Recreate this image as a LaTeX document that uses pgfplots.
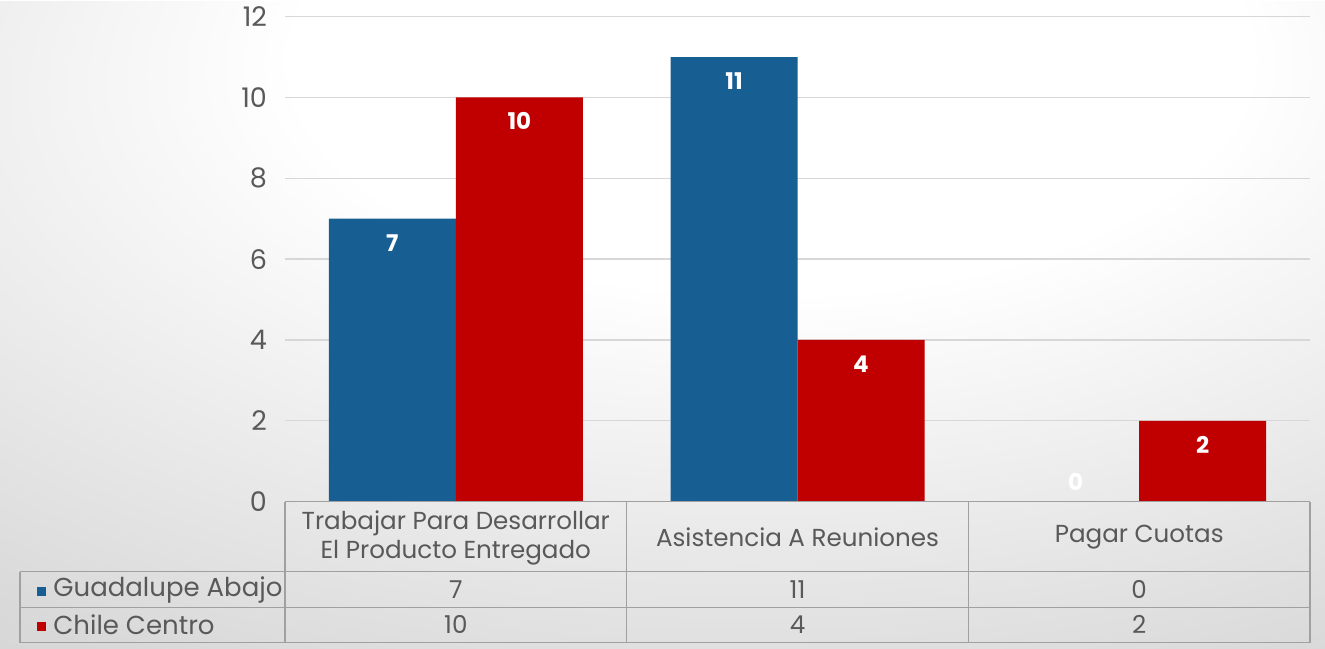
\documentclass[border=0pt]{standalone}
\usepackage{pgfplots}
\pgfplotsset{compat=1.18}
\usepackage{fontspec}
\setmainfont{Poppins}

\definecolor{serieA}{RGB}{23,94,147}
\definecolor{serieB}{RGB}{192,0,0}
\definecolor{gridc}{RGB}{215,215,215}
\definecolor{tabline}{RGB}{160,160,160}
\definecolor{txt}{RGB}{89,89,89}

\pgfdeclareradialshading{fondo}{\pgfpoint{5bp}{25bp}}{%
  color(0bp)=(white); color(18bp)=(white); color(45bp)=(white!85!black);
  color(75bp)=(white!76!black); color(100bp)=(white!74!black)}

\begin{document}
\begin{tikzpicture}
  % fondo degradado, 1 px = 0.5pt
  \shade[shading=fondo] (0pt,0pt) rectangle (662.5pt,323.5pt);

  \begin{axis}[
      at={(142.5pt,73.5pt)}, anchor=south west,
      scale only axis,
      width=512.5pt, height=242.5pt,
      ybar=0pt, bar width=63.5pt,
      xmin=-0.5, xmax=2.5,
      ymin=0, ymax=12,
      ytick={0,2,...,12},
      xtick=\empty,
      axis line style={draw=none},
      major tick length=0pt,
      ymajorgrids,
      grid style={gridc, line width=0.6pt},
      yticklabel style={font=\fontsize{13.5}{15}\selectfont, text=txt, xshift=-5.5pt},
      /pgf/number format/assume math mode=true,
      nodes near coords,
      visualization depends on={rawy \as \rawy},
      every node near coord/.append style={
        font=\bfseries\fontsize{11.5}{13}\selectfont, text=white,
        anchor=center, yshift={ifthenelse(\rawy==0,10pt,-12pt)}},
    ]
    \addplot[fill=serieA, draw=none] coordinates {(0,7) (1,11) (2,0)};
    \addplot[fill=serieB, draw=none] coordinates {(0,10) (1,4) (2,2)};
  \end{axis}

  % tabla de datos
  \begin{scope}[tabline, line width=0.6pt]
    \draw (142.5pt,73.5pt) -- (655pt,73.5pt);
    \draw (10pt,38.5pt) -- (655pt,38.5pt);
    \draw (10pt,20.5pt) -- (655pt,20.5pt);
    \draw (10pt,3pt) -- (655pt,3pt);
    \draw (10pt,3pt) -- (10pt,38.5pt);
    \foreach \xx in {142.5,313.33,484.17,655}
      \draw (\xx pt,3pt) -- (\xx pt,73.5pt);
  \end{scope}

  \begin{scope}[every node/.style={text=txt, font=\fontsize{12.3}{14.5}\selectfont, inner sep=0pt}]
    \node[align=center] at (227.9pt,55.5pt) {Trabajar Para Desarrollar\\El Producto Entregado};
    \node at (398.75pt,55.5pt) {Asistencia A Reuniones};
    \node at (569.6pt,55.5pt) {Pagar Cuotas};

    \node at (227.9pt,29.5pt) {7};
    \node at (398.75pt,29.5pt) {11};
    \node at (569.6pt,29.5pt) {0};
    \node at (227.9pt,12pt) {10};
    \node at (398.75pt,12pt) {4};
    \node at (569.6pt,12pt) {2};

    \fill[serieA] (18.5pt,26.5pt) rectangle (23pt,31pt);
    \node[anchor=west, font=\fontsize{13}{15}\selectfont] at (26.5pt,29.5pt) {Guadalupe Abajo};
    \fill[serieB] (18.5pt,9pt) rectangle (23pt,13.5pt);
    \node[anchor=west, font=\fontsize{13}{15}\selectfont] at (26.5pt,12pt) {Chile Centro};
  \end{scope}
\end{tikzpicture}
\end{document}
